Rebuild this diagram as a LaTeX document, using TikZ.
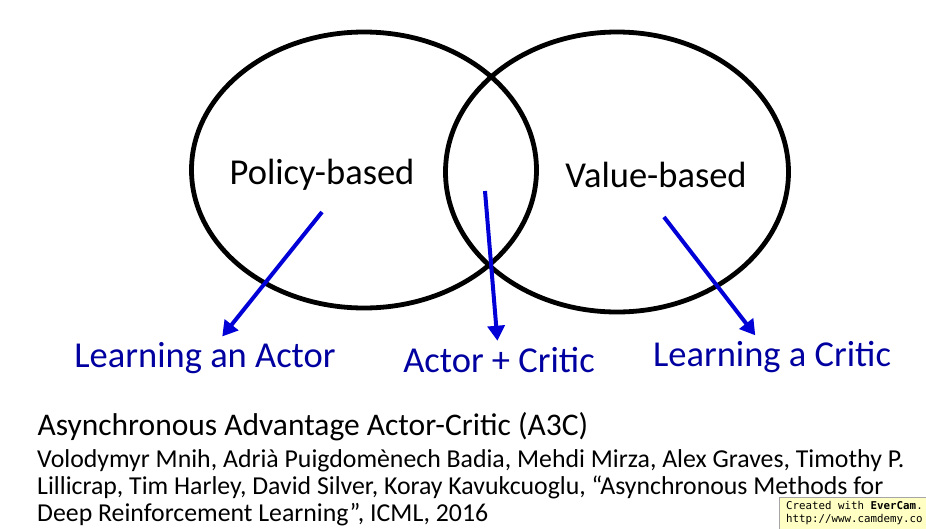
\documentclass[tikz,border=0pt]{standalone}
\usepackage{fontspec}
\setmainfont{Carlito}
\newfontfamily\tagfont{DejaVu Sans Mono}
\usetikzlibrary{shapes.geometric,arrows.meta}
\definecolor{lblblue}{RGB}{0,0,160}
\definecolor{arrblue}{RGB}{0,0,215}
\definecolor{tagyellow}{RGB}{255,255,196}

\begin{document}
\begin{tikzpicture}[x=1pt,y=-1pt,
  circ/.style={draw,ellipse,line width=4.8pt,inner sep=0pt},
  big/.style={font=\fontsize{36.5}{42}\selectfont},
  lbl/.style={big,text=lblblue},
  arr/.style={draw=arrblue,line width=4pt,-{Triangle[length=15pt,width=17pt]}},
  ref/.style={anchor=north west,align=left,inner sep=0pt,font=\fontsize{25.8}{27}\selectfont}]
  \useasboundingbox (0,0) rectangle (926,528);
  \clip (0,0) rectangle (926,528);
  % the two sets
  \node[circ,minimum width=345pt,minimum height=276pt] (pol) at (364,170) {};
  \node[circ,minimum width=343pt,minimum height=280pt] (val) at (617,172) {};
  \node[big] (ptxt) at (322,175) {Policy-based};
  \node[big] (vtxt) at (656,175) {Value-based};
  % labels below
  \node[lbl] (lact) at (205,358) {Learning an Actor};
  \node[lbl] (lac)  at (499,360) {Actor + Critic};
  \node[lbl] (lcri) at (772,357) {Learning a Critic};
  \coordinate (s1) at (322,212);
  \coordinate (s2) at (485,191);
  \coordinate (s3) at (664,217);
  \draw[arr,shorten >=3pt] (s1) -- (lact);
  \draw[arr,shorten >=3pt] (s2) -- (lac);
  \draw[arr,shorten >=3pt] (s3) -- (lcri);
  % reference
  \node[anchor=base west,font=\fontsize{31.5}{36}\selectfont] (title) at (34,435)
    {Asynchronous Advantage Actor-Critic (A3C)};
  \node[ref] (cite) at (37,449)
    {Volodymyr Mnih, Adrià Puigdomènech Badia, Mehdi Mirza, Alex Graves, Timothy P.\\
     Lillicrap, Tim Harley, David Silver, Koray Kavukcuoglu, “Asynchronous Methods for\\
     Deep Reinforcement Learning”, ICML, 2016};
  % recorder tag
  \node[draw=gray!70,fill=tagyellow,anchor=north west,minimum width=170pt,minimum height=34pt] (tag) at (779,497) {};
  \node[anchor=north west,align=left,inner sep=0pt,font=\tagfont\fontsize{10.8}{13}\selectfont] (tagtxt) at (786,501)
    {Created with \textbf{EverCam}.\\http://www.camdemy.co};
\end{tikzpicture}
\end{document}
